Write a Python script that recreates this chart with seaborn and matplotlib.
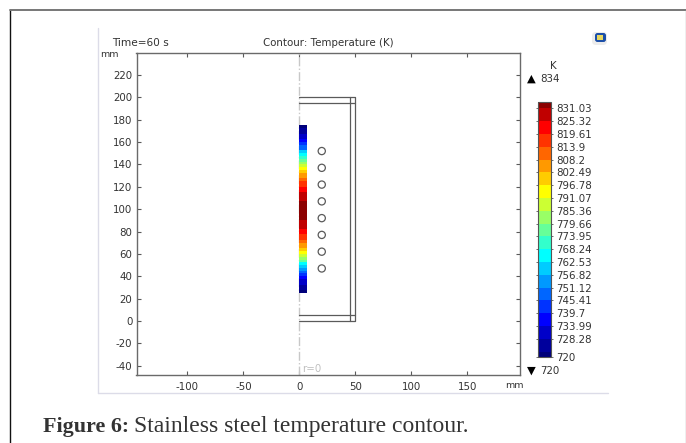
import matplotlib
matplotlib.use('Agg')
import matplotlib.pyplot as plt
from matplotlib.colors import BoundaryNorm, ListedColormap
from matplotlib.patches import FancyBboxPatch, Rectangle
import numpy as np
import pandas as pd
import seaborn as sns

# Temperature along the steel strip, top (z=175) to bottom (z=25), 2.5 mm steps
strip_temp = [
    721, 723, 726, 729, 733, 737, 741, 746, 751, 757, 763, 769, 775, 782, 789, 794,
    799, 804, 808, 811, 815, 818, 821, 824, 826, 828, 830, 831.5, 832.5, 833.5, 834,
    833.5, 832.5, 831.5, 830, 828, 826, 824, 821, 818, 815, 811, 808, 804, 799, 794,
    788, 781, 774, 767, 760, 754, 748, 743, 738, 733, 729, 726, 723, 721,
]
strip_r = [0, 6.5]
strip_z = [25, 175]

# Band edges and colours of the legend, bottom to top
band_edges = [720, 722.57, 728.28, 733.99, 739.7, 745.41, 751.12, 756.82, 762.53, 768.24, 773.95,
              779.66, 785.36, 791.07, 796.78, 802.49, 808.2, 813.9, 819.61, 825.32, 831.03, 834]
band_colors = ['#00007a', '#00009c', '#0000c8', '#0000ff', '#0033ff', '#0066ff', '#0099ff', '#00ccff',
               '#00ffff', '#33ffcc', '#66ff99', '#99ff66', '#ccff33', '#ffff00', '#ffcc00', '#ff9900',
               '#ff6600', '#ff3300', '#ff0000', '#c00000', '#8b0000']
legend_ticks = [720, 728.28, 733.99, 739.7, 745.41, 751.12, 756.82, 762.53, 768.24, 773.95,
                779.66, 785.36, 791.07, 796.78, 802.49, 808.2, 813.9, 819.61, 825.32, 831.03]
legend_labels = ['720', '728.28', '733.99', '739.7', '745.41', '751.12', '756.82', '762.53', '768.24', '773.95',
                 '779.66', '785.36', '791.07', '796.78', '802.49', '808.2', '813.9', '819.61', '825.32', '831.03']

# Geometry outlines in mm
outer_r = [0, 50, 50, 0]
outer_z = [0, 0, 200, 200]
upper_r = [0, 50]
upper_z = [195, 195]
lower_r = [0, 50]
lower_z = [5, 5]
wall_r = [45, 45]
wall_z = [0, 200]
hole_r = [20, 20, 20, 20, 20, 20, 20, 20]
hole_z = [47, 62, 77, 92, 107, 122, 137, 152]

x_ticks = [-100, -50, 0, 50, 100, 150]
y_ticks = [-40, -20, 0, 20, 40, 60, 80, 100, 120, 140, 160, 180, 200, 220]

sns.set_theme(style='white')
plt.rcParams['font.family'] = ['DejaVu Sans']
plt.rcParams['axes.unicode_minus'] = False

W, H = 686, 443
TEXT = '#333333'
LINE = '#5a5a5a'
FS = 7.4

fig = plt.figure(figsize=(W / 100, H / 100), dpi=100, facecolor='white')


def px_box(left, top, right, bottom):
    return [left / W, 1 - bottom / H, (right - left) / W, (bottom - top) / H]


# Page furniture drawn in pixel coordinates
page = fig.add_axes([0, 0, 1, 1], zorder=0)
page.set_xlim(0, W)
page.set_ylim(H, 0)
page.axis('off')
page.plot([9.5, 9.5], [10, H], color='#111111', lw=1)
page.plot([9.5, W], [10, 10], color='#777777', lw=1.4)
page.plot([685.5, 685.5], [10, H], color='#b0b0b0', lw=1)
page.plot([97.5, 97.5], [28, 393], color='#dcdce8', lw=1)
page.plot([97.5, 608], [393, 393], color='#dcdce8', lw=1)

# Small app icon, top right
page.add_patch(FancyBboxPatch((592, 32), 15, 13, boxstyle='round,pad=0,rounding_size=4',
                              fc='#ececec', ec='none'))
page.add_patch(FancyBboxPatch((595, 33), 11, 9, boxstyle='round,pad=0,rounding_size=2.5',
                              fc='#1c4fa8', ec='none'))
page.add_patch(Rectangle((597, 35), 6, 4.5, fc='#e8d860', ec='none'))

page.text(112, 42.5, 'Time=60 s', fontsize=FS + 0.2, color=TEXT, va='center')
page.text(328, 42.5, 'Contour: Temperature (K)', fontsize=FS, color=TEXT, va='center', ha='center')
page.text(100, 54, 'mm', fontsize=FS - 0.6, color=TEXT, va='center')
page.text(505, 386, 'mm', fontsize=FS - 0.6, color=TEXT, va='center')
page.text(553, 66, 'K', fontsize=FS, color=TEXT, va='center', ha='center')
page.text(531, 79, '▲', fontsize=FS + 0.8, color='black', va='center', ha='center')
page.text(540, 79, '834', fontsize=FS, color=TEXT, va='center')
page.text(531, 370.5, '▼', fontsize=FS + 0.8, color='black', va='center', ha='center')
page.text(540, 370.5, '720', fontsize=FS, color=TEXT, va='center')

cap = dict(family='Liberation Serif', color='#333333', va='baseline')
page.text(43, 432, 'Figure 6:', fontweight='bold', fontsize=15.8, **cap)
page.text(134, 432, 'Stainless steel temperature contour.', fontsize=17, **cap)

# Main axes
ax = fig.add_axes(px_box(136.5, 53, 520, 375), zorder=1)
ax.patch.set_alpha(0)
for r, z in [(outer_r, outer_z), (upper_r, upper_z), (lower_r, lower_z), (wall_r, wall_z)]:
    sns.lineplot(x=r, y=z, sort=False, estimator=None, color=LINE, lw=0.9, ax=ax)
sns.scatterplot(x=hole_r, y=hole_z, s=27, facecolor='none', edgecolor=LINE, linewidth=0.9, ax=ax, zorder=3)
ax.plot([0, 0], [-48.3, 239.7], color='#c8c8c8', lw=1, ls='-.', zorder=1)
ax.text(2.5, -43, 'r=0', fontsize=FS, color='#c0c0c0', va='center')

ax.set_xlim(-145.4, 197)
ax.set_ylim(-48.3, 239.7)
ax.set_xticks(x_ticks)
ax.set_yticks(y_ticks)
ax.tick_params(direction='in', length=3, width=0.8, color=LINE, labelsize=FS, labelcolor=TEXT,
               top=True, right=True, left=True, bottom=True, pad=3)
ax.tick_params(axis='x', pad=5)
for s in ax.spines.values():
    s.set_color('#6a6a6a')
    s.set_linewidth(1)

# Temperature strip and its legend
cmap = ListedColormap(band_colors)
norm = BoundaryNorm(band_edges, cmap.N)
strip_df = pd.DataFrame(np.array(strip_temp).reshape(-1, 1))
strip = ax.inset_axes([strip_r[0], strip_z[0], strip_r[1] - strip_r[0], strip_z[1] - strip_z[0]],
                      transform=ax.transData, zorder=2)
cax = fig.add_axes(px_box(537.5, 101.7, 550.5, 357.3), zorder=1)
sns.heatmap(strip_df, ax=strip, cmap=cmap, norm=norm, xticklabels=False, yticklabels=False,
            cbar_ax=cax, cbar_kws={'spacing': 'proportional'})
strip.set_xlabel('')
strip.set_ylabel('')

cbar = strip.collections[0].colorbar
cbar.set_ticks(legend_ticks, labels=legend_labels)
cbar.minorticks_off()
cbar.outline.set_visible(True)
cbar.outline.set_edgecolor('#555555')
cbar.outline.set_linewidth(0.8)
cax.tick_params(right=True, left=True, direction='inout', length=2.5, width=0.5, color='#333333',
                labelsize=FS, labelcolor=TEXT, pad=3)

fig.savefig('out.png', dpi=100)
